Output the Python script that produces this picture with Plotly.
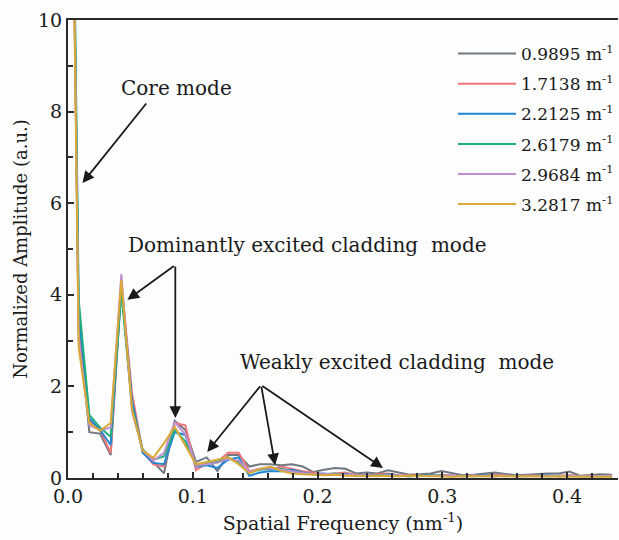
import numpy as np
import plotly.graph_objects as go

# Spatial frequency grid (nm^-1): uniform FFT bins
step = 0.00855
n_pts = 52
freq = [round(i * step, 5) for i in range(n_pts)]

labels = ["0.9895 m<sup>-1</sup>", "1.7138 m<sup>-1</sup>", "2.2125 m<sup>-1</sup>",
          "2.6179 m<sup>-1</sup>", "2.9684 m<sup>-1</sup>", "3.2817 m<sup>-1</sup>"]
colors = ["#6f7880", "#f0767a", "#1f86d6", "#1fae80", "#c08fd0", "#d9a935"]

amp_09895 = [21.0, 3.3, 1.0, 0.97, 0.5, 4.2, 1.6, 0.6, 0.35, 0.1, 1.25, 1.05, 0.35, 0.45, 0.15, 0.5, 0.5, 0.25,
             0.3, 0.3, 0.28, 0.3, 0.25, 0.13, 0.18, 0.22, 0.2, 0.1, 0.12, 0.1, 0.17, 0.12, 0.07, 0.08, 0.1,
             0.15, 0.1, 0.06, 0.07, 0.09, 0.12, 0.09, 0.06, 0.07, 0.09, 0.1, 0.1, 0.14, 0.05, 0.06, 0.08, 0.07]
amp_17138 = [21.5, 3.2, 1.25, 1.05, 0.55, 4.3, 1.85, 0.58, 0.3, 0.25, 1.2, 1.15, 0.17, 0.32, 0.35, 0.55, 0.55, 0.15,
             0.2, 0.18, 0.25, 0.2, 0.15, 0.12, 0.08, 0.1, 0.12, 0.06, 0.05, 0.08, 0.1, 0.06, 0.05, 0.06, 0.05,
             0.07, 0.05, 0.04, 0.06, 0.05, 0.07, 0.06, 0.04, 0.05, 0.06, 0.04, 0.05, 0.06, 0.04, 0.05, 0.04, 0.05]
amp_22125 = [22.0, 3.6, 1.3, 1.05, 0.72, 4.2, 1.7, 0.55, 0.33, 0.3, 1.0, 0.94, 0.25, 0.28, 0.22, 0.4, 0.45, 0.05,
             0.12, 0.15, 0.15, 0.18, 0.12, 0.08, 0.1, 0.07, 0.09, 0.05, 0.06, 0.04, 0.08, 0.05, 0.04, 0.05, 0.06,
             0.04, 0.05, 0.04, 0.05, 0.06, 0.04, 0.05, 0.04, 0.04, 0.05, 0.06, 0.04, 0.05, 0.04, 0.04, 0.05, 0.04]
amp_26179 = [22.5, 3.9, 1.38, 1.1, 0.9, 4.05, 1.55, 0.62, 0.4, 0.47, 1.05, 0.8, 0.28, 0.3, 0.35, 0.45, 0.35, 0.12,
             0.18, 0.2, 0.2, 0.15, 0.1, 0.09, 0.08, 0.1, 0.07, 0.06, 0.05, 0.06, 0.07, 0.05, 0.04, 0.05, 0.05,
             0.06, 0.04, 0.05, 0.04, 0.05, 0.05, 0.04, 0.05, 0.04, 0.05, 0.04, 0.05, 0.04, 0.04, 0.05, 0.04, 0.04]
amp_29684 = [22.0, 3.0, 1.15, 1.05, 1.1, 4.45, 1.45, 0.6, 0.38, 0.55, 1.22, 0.95, 0.27, 0.3, 0.33, 0.42, 0.38, 0.13,
             0.2, 0.22, 0.18, 0.15, 0.11, 0.08, 0.09, 0.08, 0.07, 0.06, 0.06, 0.05, 0.06, 0.05, 0.05, 0.04, 0.05,
             0.05, 0.06, 0.04, 0.05, 0.04, 0.05, 0.05, 0.04, 0.05, 0.04, 0.05, 0.04, 0.05, 0.04, 0.04, 0.04, 0.05]
amp_32817 = [21.0, 2.85, 1.2, 1.03, 1.2, 4.32, 1.5, 0.6, 0.44, 0.76, 1.12, 0.7, 0.3, 0.35, 0.4, 0.45, 0.3, 0.1,
             0.2, 0.25, 0.15, 0.1, 0.08, 0.07, 0.06, 0.07, 0.05, 0.05, 0.04, 0.05, 0.04, 0.04, 0.05, 0.04, 0.04,
             0.04, 0.03, 0.04, 0.04, 0.03, 0.04, 0.04, 0.03, 0.04, 0.03, 0.04, 0.03, 0.04, 0.03, 0.03, 0.04, 0.03]

series = [amp_09895, amp_17138, amp_22125, amp_26179, amp_29684, amp_32817]

serif = "DejaVu Serif"
ink = "#1a1a1a"

fig = go.Figure()
for k, (lab, col, amp) in enumerate(zip(labels, colors, series)):
    fig.add_trace(go.Scatter(x=freq, y=amp, mode="lines", name=lab, legendgroup=f"g{k}",
                             line=dict(color=col, width=2)))

# Arrows pointing at the core-mode and cladding-mode peaks
arrow_style = dict(showarrow=True, arrowhead=2, arrowsize=1.3, arrowwidth=1.8, arrowcolor=ink,
                   axref="pixel", ayref="pixel", text="")
annos = [
    dict(x=0.0116, y=6.44, ax=65, ay=-81),
    dict(x=0.0476, y=3.89, ax=48, ay=-35),
    dict(x=0.086, y=1.31, ax=0, ay=-153),
    dict(x=0.1116, y=0.57, ax=54, ay=-67),
    dict(x=0.166, y=0.28, ax=-14, ay=-80),
    dict(x=0.2524, y=0.22, ax=-122, ay=-83),
]
for a in annos:
    fig.add_annotation(**a, **arrow_style)

text_font = dict(family=serif, size=20, color=ink)
fig.add_annotation(x=0.0868, y=8.52, text="Core mode", showarrow=False, font=text_font)
fig.add_annotation(x=0.1916, y=5.09, text="Dominantly excited cladding\u00a0 mode", showarrow=False, font=text_font)
fig.add_annotation(x=0.2636, y=2.53, text="Weakly excited cladding\u00a0 mode", showarrow=False, font=text_font)

axis_common = dict(showline=True, linecolor="#2a2a2a", linewidth=2, ticks="inside", tickcolor="#2a2a2a",
                   ticklen=6, tickwidth=2, showgrid=False, zeroline=False,
                   tickfont=dict(family=serif, size=19, color=ink))

fig.update_xaxes(range=[0, 0.4408], dtick=0.1, tick0=0, tickformat=".1f", mirror=True,
                 minor=dict(dtick=0.02, ticks="inside", ticklen=5, tickcolor="#2a2a2a", tickwidth=1.5),
                 title=dict(text="Spatial Frequency (nm<sup>-1</sup>)",
                            font=dict(family=serif, size=19, color=ink), standoff=11),
                 **axis_common)
fig.update_yaxes(range=[0, 10], dtick=2, tick0=0,
                 minor=dict(dtick=1, ticks="inside", ticklen=5, tickcolor="#2a2a2a", tickwidth=1.5),
                 title=dict(text="Normalized Amplitude (a.u.)",
                            font=dict(family=serif, size=18, color=ink), standoff=6),
                 **axis_common)

fig.update_layout(
    width=619, height=540,
    margin=dict(l=68, r=0, t=20, b=62),
    plot_bgcolor="#fdfdfd", paper_bgcolor="#fdfdfd",
    showlegend=True,
    font=dict(family=serif),
    legend=dict(x=0.70, y=0.965, xanchor="left", yanchor="top", bgcolor="rgba(0,0,0,0)",
                itemwidth=58,
                font=dict(family=serif, size=17, color=ink), tracegroupgap=5),
)

fig.write_html("out.html")
